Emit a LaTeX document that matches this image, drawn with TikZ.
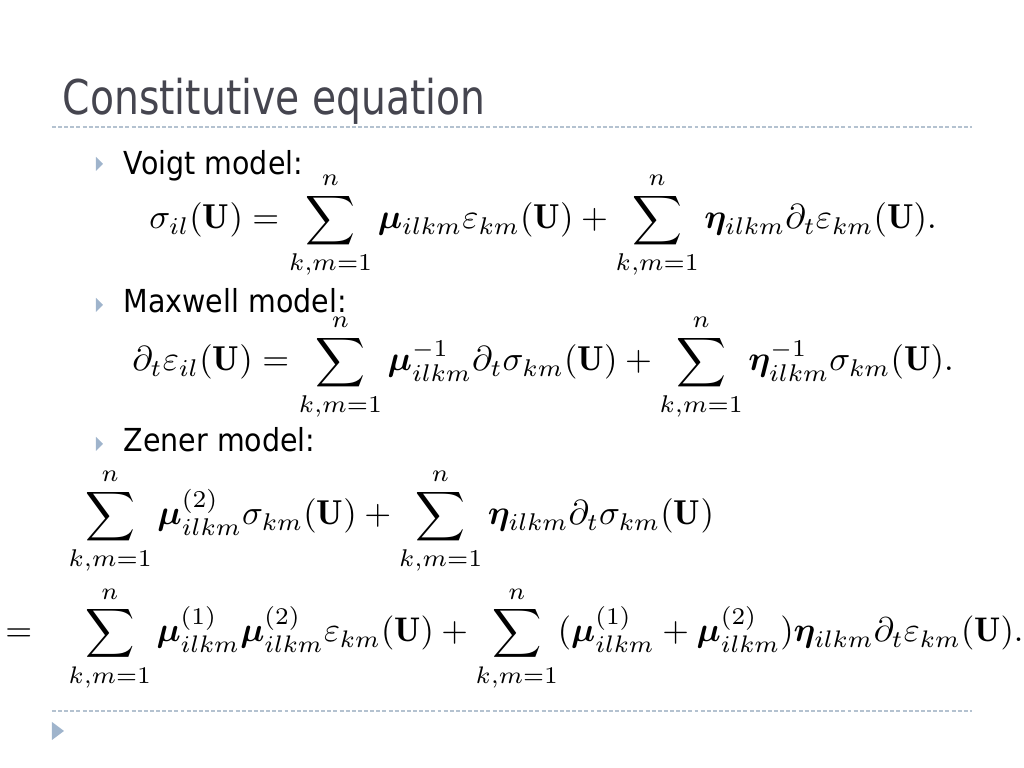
\documentclass[tikz,border=0pt]{standalone}
\usepackage{amsmath}
\usepackage{bm}
\usepackage{fontspec}
\newfontfamily\titlefont[FakeStretch=0.82]{DejaVu Sans}
\newfontfamily\slidefont[FakeStretch=0.9]{DejaVu Sans}
\usepackage{tikz}
\usetikzlibrary{positioning}

\definecolor{titlegray}{HTML}{45454F}
\definecolor{bulletblue}{HTML}{9FB4CC}
\definecolor{rulegray}{HTML}{B4C2D0}

\tikzset{
  bullet/.style={fill=bulletblue, draw=none},
  itemtext/.style={anchor=base west, inner sep=0pt, font=\slidefont\fontsize{8.8}{10}\selectfont},
  eqn/.style={anchor=base, inner sep=0pt, scale=0.96, transform shape},
  sliderule/.style={rulegray, dash pattern=on 1.1pt off 0.6pt, line width=0.3pt}
}

\begin{document}
\begin{tikzpicture}[x=0.2778pt, y=-0.2778pt]
  \useasboundingbox (0,0) rectangle (1024,768);

  % title and rules
  \node[anchor=base west, inner sep=0pt, text=titlegray, font=\titlefont\fontsize{13.3}{15}\selectfont] (title) at (62,115) {Constitutive equation};
  \draw[sliderule] (52,127) -- (972,127);
  \draw[sliderule] (52,711) -- (972,711);
  \fill[bullet] (52,722) -- (64,731) -- (52,740) -- cycle;

  % Voigt
  \fill[bullet] (96,157) -- (103,164) -- (96,171) -- cycle;
  \node[itemtext] (voigt) at (123,175) {Voigt model:};
  \node[eqn] (voigteq) at (543,229) {$\displaystyle
    \sigma_{il}(\mathbf{U}) = \sum_{k,m=1}^{n} \bm{\mu}_{ilkm}\varepsilon_{km}(\mathbf{U})
    + \sum_{k,m=1}^{n} \bm{\eta}_{ilkm}\partial_t\varepsilon_{km}(\mathbf{U}).$};

  % Maxwell
  \fill[bullet] (96,298) -- (103,305) -- (96,312) -- cycle;
  \node[itemtext] (maxwell) at (123,313) {Maxwell model:};
  \node[eqn] (maxwelleq) at (543,371) {$\displaystyle
    \partial_t\varepsilon_{il}(\mathbf{U}) = \sum_{k,m=1}^{n} \bm{\mu}^{-1}_{ilkm}\partial_t\sigma_{km}(\mathbf{U})
    + \sum_{k,m=1}^{n} \bm{\eta}^{-1}_{ilkm}\sigma_{km}(\mathbf{U}).$};

  % Zener
  \fill[bullet] (96,437) -- (103,444) -- (96,451) -- cycle;
  \node[itemtext] (zener) at (123,452) {Zener model:};
  \node[eqn, anchor=base west] (zenerlhs) at (68,525) {$\displaystyle
    \sum_{k,m=1}^{n} \bm{\mu}^{(2)}_{ilkm}\sigma_{km}(\mathbf{U})
    + \sum_{k,m=1}^{n} \bm{\eta}_{ilkm}\partial_t\sigma_{km}(\mathbf{U})$};
  \node[eqn, scale=0.95/0.96, anchor=base west] (zenerrhs) at (68,642) {$\displaystyle
    \sum_{k,m=1}^{n} \bm{\mu}^{(1)}_{ilkm}\bm{\mu}^{(2)}_{ilkm}\varepsilon_{km}(\mathbf{U})
    + \sum_{k,m=1}^{n} (\bm{\mu}^{(1)}_{ilkm}+\bm{\mu}^{(2)}_{ilkm})\bm{\eta}_{ilkm}\partial_t\varepsilon_{km}(\mathbf{U}).$};
  \node[eqn, anchor=base east] (zenereq) at (33,642) {$=$};
\end{tikzpicture}
\end{document}
